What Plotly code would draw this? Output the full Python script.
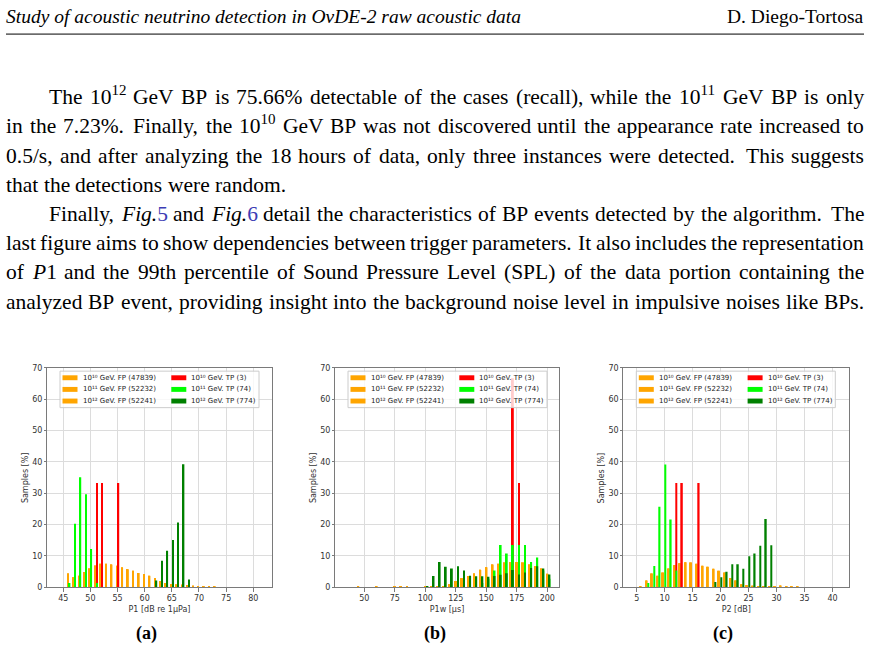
import re
import plotly.graph_objects as go

W, H = 871, 651

# ---------------- chart data ----------------
series_names = ["10¹⁰ GeV. FP (47839)", "10¹¹ GeV. FP (52232)",
                "10¹² GeV. FP (52241)", "10¹⁰ GeV. TP (3)",
                "10¹¹ GeV. TP (74)", "10¹² GeV. TP (774)"]
series_colors = ["#FFA500", "#FFA500", "#FFA500", "#FF0000", "#00FF00", "#008000"]

# (a) P1 [dB re 1uPa]
a_fp_bins = list(range(46, 74))
a_fp10 = [4.4, 3.1, 3.7, 4.9, 6.0, 6.9, 7.5, 7.5, 7.3, 6.9, 6.3, 5.8, 5.3, 4.6, 4.2, 3.7, 2.9, 2.0,
          1.4, 1.0, 0.9, 0.8, 0.7, 0.5, 0.4, 0.3, 0.25, 0.2]
a_fp11 = [4.3, 3.2, 3.6, 4.8, 6.0, 7.0, 7.4, 7.5, 7.2, 6.9, 6.3, 5.7, 5.3, 4.6, 4.1, 3.7, 2.9, 2.0,
          1.4, 1.0, 0.9, 0.8, 0.7, 0.5, 0.4, 0.3, 0.25, 0.2]
a_fp12 = [4.4, 3.1, 3.7, 4.9, 5.9, 6.9, 7.5, 7.4, 7.3, 6.8, 6.3, 5.8, 5.2, 4.6, 4.2, 3.6, 2.9, 2.0,
          1.3, 1.0, 0.9, 0.8, 0.7, 0.5, 0.4, 0.3, 0.2, 0.2]
a_tp10_bins = [51, 52, 55]
a_tp10 = [33.3, 33.3, 33.3]
a_tp11_bins = [46, 47, 48, 49, 50, 51]
a_tp11 = [1.35, 20.3, 35.1, 29.7, 12.2, 1.35]
a_tp12_bins = [62, 63, 64, 65, 66, 67, 68]
a_tp12 = [2.2, 8.5, 11.7, 15.1, 20.7, 39.3, 2.5]

# (b) P1w [us]
b_fp_bins = list(range(45, 205, 5))
b_fp10 = [0.2, 0.1, 0.0, 0.2, 0.0, 0.0, 0.2, 0.4, 0.3, 0.0, 0.0, 0.2, 0.3, 0.4, 0.4,
          1.0, 2.0, 2.9, 3.6, 4.4, 5.6, 6.4, 7.3, 7.5, 7.9, 8.0, 8.1, 7.9, 7.3, 6.7, 6.0, 4.3]
b_fp11 = [0.1, 0.0, 0.0, 0.2, 0.0, 0.0, 0.1, 0.3, 0.3, 0.0, 0.0, 0.2, 0.3, 0.3, 0.4,
          1.0, 1.9, 2.9, 3.5, 4.4, 5.5, 6.4, 7.2, 7.5, 7.8, 8.0, 8.0, 7.9, 7.3, 6.6, 6.0, 4.2]
b_fp12 = [0.2, 0.0, 0.0, 0.1, 0.0, 0.0, 0.2, 0.4, 0.2, 0.0, 0.0, 0.1, 0.3, 0.4, 0.4,
          0.9, 2.0, 2.8, 3.6, 4.3, 5.6, 6.3, 7.3, 7.4, 7.9, 7.9, 8.1, 7.8, 7.2, 6.7, 5.9, 4.3]
b_tp10_bins = [170, 175]
b_tp10 = [66.7, 33.3]
b_tp11_bins = list(range(145, 205, 5))
b_tp11 = [1.35, 2.7, 5.4, 13.5, 10.8, 13.5, 13.5, 13.5, 8.1, 9.5, 5.4, 2.7]
b_tp12_bins = list(range(100, 205, 5))
b_tp12 = [0.3, 3.6, 8.1, 6.6, 6.0, 6.7, 5.4, 3.7, 3.5, 3.5, 3.4, 3.6, 4.0, 4.5, 5.5, 4.1,
          4.7, 6.2, 6.7, 6.0, 4.1]

# (c) P2 [dB]
c_fp_bins = list(range(6, 35))
c_fp10 = [0.2, 2.2, 4.4, 3.7, 4.7, 6.0, 7.1, 7.7, 8.0, 7.9, 7.5, 6.9, 6.6, 5.9, 5.3, 4.7, 3.0,
          2.2, 1.0, 0.7, 0.5, 0.4, 0.3, 0.3, 0.3, 0.6, 0.3, 0.3, 0.3]
c_fp11 = [0.2, 2.1, 4.3, 3.7, 4.6, 6.0, 7.0, 7.7, 7.9, 7.9, 7.4, 6.9, 6.5, 5.9, 5.2, 4.7, 3.0,
          2.1, 1.0, 0.7, 0.5, 0.4, 0.3, 0.3, 0.3, 0.5, 0.3, 0.3, 0.2]
c_fp12 = [0.1, 2.2, 4.4, 3.6, 4.7, 5.9, 7.1, 7.6, 8.0, 7.8, 7.5, 6.8, 6.6, 5.8, 5.3, 4.6, 2.9,
          2.2, 0.9, 0.7, 0.5, 0.4, 0.3, 0.3, 0.3, 0.6, 0.3, 0.2, 0.3]
c_tp10_bins = [12, 13, 16]
c_tp10 = [33.3, 33.3, 33.3]
c_tp11_bins = [7, 8, 9, 10, 11, 12]
c_tp11 = [1.35, 6.8, 25.7, 39.2, 21.6, 5.4]
c_tp12_bins = list(range(19, 30))
c_tp12 = [1.7, 3.2, 5.0, 7.4, 7.4, 5.9, 9.9, 10.8, 13.3, 21.8, 13.4]

x_titles = ["P1 [dB re 1μPa]", "P1w [μs]", "P2 [dB]"]
y_title = "Samples [%]"
x_ticks = [list(range(45, 85, 5)), list(range(50, 225, 25)), list(range(5, 45, 5))]
captions = ["(a)", "(b)", "(c)"]

# ---------------- page text ----------------
header_left = "<i>Study of acoustic neutrino detection in OνDE-2 raw acoustic data</i>"
header_right = "D. Diego-Tortosa"
LINK = "<span style='color:#3c3cb4'>%s</span>"
body_lines = [
    ("The 10<sup>12</sup> GeV BP is 75.66% detectable of the cases (recall), while the 10<sup>11</sup> GeV BP is only", True, True),
    ("in the 7.23%. Finally, the 10<sup>10</sup> GeV BP was not discovered until the appearance rate increased to", False, True),
    ("0.5/s, and after analyzing the 18 hours of data, only three instances were detected. This suggests", False, True),
    ("that the detections were random.", False, False),
    ("Finally, <i>Fig.</i>" + LINK % "5" + " and <i>Fig.</i>" + LINK % "6" + " detail the characteristics of BP events detected by the algorithm. The", True, True),
    ("last figure aims to show dependencies between trigger parameters. It also includes the representation", False, True),
    ("of <i>P</i>1 and the 99th percentile of Sound Pressure Level (SPL) of the data portion containing the", False, True),
    ("analyzed BP event, providing insight into the background noise level in impulsive noises like BPs.", False, True),
]

# ---------------- styling / geometry ----------------
panel_px = [(47, 272), (335, 559), (623.3, 849.3)]
plot_top, plot_bot = 369, 591.5
x_ranges = [[42.0, 83.45], [26.0, 209.6], [2.6, 43.0]]
bar_style = [dict(fp=-0.13, tp=0.17, w=0.27), dict(fp=0.0, tp=1.8, w=1.5), dict(fp=-0.3, tp=0.1, w=0.27)]
caption_x = [146.5, 435, 723.3]
caption_y = 638.5

TEXT_SIZE = 21.5
LEFT, INDENT, RIGHT = 6.0, 49.0, 864.0
BASE0, LEAD = 102.0, 29.6

# Times / Liberation Serif advance widths (1/1000 em)
TR = dict(zip(" !%(),-./0123456789:;?", [250, 333, 833, 333, 333, 250, 333, 250, 278] + [500] * 10 + [278, 278, 444]))
TR.update(dict(zip("ABCDEFGHIJKLMNOPQRSTUVWXYZ", [722, 667, 667, 722, 611, 556, 722, 722, 333, 389, 722, 611, 889,
                                                   722, 722, 556, 722, 667, 556, 611, 722, 722, 944, 722, 722, 611])))
TR.update(dict(zip("abcdefghijklmnopqrstuvwxyz", [444, 500, 444, 500, 444, 333, 500, 500, 278, 278, 500, 278, 778,
                                                   500, 500, 500, 500, 333, 389, 278, 500, 500, 722, 500, 500, 444])))
TI = dict(TR)
TI.update(dict(zip("ABCDEFGHIJKLMNOPQRSTUVWXYZ", [611, 611, 667, 722, 611, 611, 722, 722, 333, 444, 667, 556, 833,
                                                   667, 722, 611, 722, 611, 500, 556, 722, 611, 833, 611, 556, 556])))
TI.update(dict(zip("abcdefghijklmnopqrstuvwxyz", [500, 500, 444, 500, 444, 278, 500, 500, 278, 278, 444, 278, 722,
                                                   500, 500, 500, 500, 389, 389, 278, 500, 444, 667, 444, 444, 389])))


def word_width(html, size):
    w, italic, sup = 0.0, False, False
    for tok in re.split(r'(<[^>]+>)', html):
        if not tok:
            continue
        if tok.startswith('<'):
            t = tok.lower()
            if t.startswith('<i>'):
                italic = True
            elif t.startswith('</i'):
                italic = False
            elif t.startswith('<sup'):
                sup = True
            elif t.startswith('</sup'):
                sup = False
            continue
        table = TI if italic else TR
        s = 0.7 if sup else 1.0
        for ch in tok:
            w += table.get(ch, 500) / 1000.0 * size * s
    return w


def px(x):
    return x / W


def py(y):
    return 1 - y / H


annotations = []
shapes = []

# header
annotations.append(dict(x=px(LEFT), y=py(23), xref='paper', yref='paper', xanchor='left', yanchor='bottom',
                        text=header_left, showarrow=False, borderpad=0, borderwidth=0,
                        font=dict(family='Liberation Serif', size=19.5, color='black')))
annotations.append(dict(x=px(RIGHT), y=py(23), xref='paper', yref='paper', xanchor='right', yanchor='bottom',
                        text=header_right, showarrow=False, borderpad=0, borderwidth=0,
                        font=dict(family='Liberation Serif', size=19.5, color='black')))
shapes.append(dict(type='line', xref='paper', yref='paper', x0=px(LEFT), x1=px(RIGHT), y0=py(30.5), y1=py(30.5),
                   line=dict(color='black', width=1)))

# justified body text, word by word
for i, (line, indent, justify) in enumerate(body_lines):
    words = re.split(r' (?![^<]*>)', line)
    widths = [word_width(w, TEXT_SIZE) for w in words]
    plain = [re.sub(r'<[^>]+>', '', w) for w in words]
    weights = [1.4 if p.endswith('.') else 1.0 for p in plain[:-1]]
    x0 = INDENT if indent else LEFT
    if justify:
        unit = ((RIGHT - x0) - sum(widths)) / sum(weights)
    else:
        unit = 0.25 * TEXT_SIZE
    baseline = BASE0 + LEAD * i
    ybot = baseline + 0.216 * TEXT_SIZE
    x = x0
    for k, w in enumerate(words):
        annotations.append(dict(x=px(x), y=py(ybot), xref='paper', yref='paper', xanchor='left',
                                yanchor='bottom', text=w, showarrow=False, borderpad=0, borderwidth=0,
                                font=dict(family='Liberation Serif', size=TEXT_SIZE, color='black')))
        if k < len(weights):
            x += widths[k] + unit * weights[k]

# ---------------- figure ----------------
fig = go.Figure()
panels = [
    [(a_fp_bins, a_fp10), (a_fp_bins, a_fp11), (a_fp_bins, a_fp12),
     (a_tp10_bins, a_tp10), (a_tp11_bins, a_tp11), (a_tp12_bins, a_tp12)],
    [(b_fp_bins, b_fp10), (b_fp_bins, b_fp11), (b_fp_bins, b_fp12),
     (b_tp10_bins, b_tp10), (b_tp11_bins, b_tp11), (b_tp12_bins, b_tp12)],
    [(c_fp_bins, c_fp10), (c_fp_bins, c_fp11), (c_fp_bins, c_fp12),
     (c_tp10_bins, c_tp10), (c_tp11_bins, c_tp11), (c_tp12_bins, c_tp12)],
]

layout_axes = {}
tick_font = dict(family='DejaVu Sans', size=8, color='#333333')
for p, series in enumerate(panels):
    sfx = '' if p == 0 else str(p + 1)
    st = bar_style[p]
    for s, (xs, ys) in enumerate(series):
        center = st['fp'] if s < 3 else st['tp']
        fig.add_trace(go.Bar(x=xs, y=ys, name=series_names[s],
                             xaxis='x' + sfx, yaxis='y' + sfx, width=st['w'], offset=center - st['w'] / 2,
                             marker=dict(color=series_colors[s], line=dict(width=0)), showlegend=False))
    x0p, x1p = panel_px[p]
    layout_axes['xaxis' + sfx] = dict(
        domain=[px(x0p), px(x1p)], range=x_ranges[p], anchor='y' + sfx, tickvals=x_ticks[p],
        showgrid=True, gridcolor='#dcdcdc', gridwidth=1, zeroline=False, showline=True, mirror=True,
        linecolor='#7a7a7a', linewidth=1, ticks='outside', ticklen=3.5, tickcolor='#7a7a7a',
        tickfont=tick_font, title=dict(text=x_titles[p], font=tick_font, standoff=3))
    layout_axes['yaxis' + sfx] = dict(
        domain=[py(plot_bot), py(plot_top)], range=[0, 70], anchor='x' + sfx, tickvals=list(range(0, 80, 10)),
        showgrid=True, gridcolor='#dcdcdc', gridwidth=1, zeroline=False, showline=True, mirror=True,
        linecolor='#7a7a7a', linewidth=1, ticks='outside', ticklen=2, tickcolor='#7a7a7a',
        tickfont=tick_font)
    # y-axis title placed explicitly
    annotations.append(dict(x=px(x0p - 21.5), y=py((plot_top + plot_bot) / 2), xref='paper', yref='paper',
                            xanchor='center', yanchor='middle', textangle=-90, text=y_title, showarrow=False,
                            font=tick_font))

    # legend (two columns, drawn in paper space)
    shapes.append(dict(type='rect', xref='paper', yref='paper', layer='above',
                       x0=px(x0p + 13), x1=px(x0p + 212), y0=py(plot_top + 3.3), y1=py(plot_top + 40.3),
                       fillcolor='rgba(255,255,255,0.8)', line=dict(color='#cccccc', width=1)))
    for s, name in enumerate(series_names):
        col, row = divmod(s, 3)
        yc = plot_top + 10 + 11.8 * row
        xpatch = x0p + (15.5 if col == 0 else 124.3)
        shapes.append(dict(type='rect', xref='paper', yref='paper', layer='above',
                           x0=px(xpatch), x1=px(xpatch + 15), y0=py(yc + 2.5), y1=py(yc - 2.5),
                           fillcolor=series_colors[s], line=dict(width=0)))
        annotations.append(dict(x=px(xpatch + 20), y=py(yc), xref='paper', yref='paper', xanchor='left',
                                yanchor='middle', text=name, showarrow=False, borderpad=0, borderwidth=0,
                                font=dict(family='DejaVu Sans', size=7, color='#222222')))
    annotations.append(dict(x=px(caption_x[p]), y=py(caption_y), xref='paper', yref='paper', xanchor='center',
                            yanchor='middle', text='<b>%s</b>' % captions[p], showarrow=False,
                            font=dict(family='Liberation Serif', size=18, color='black')))

fig.update_layout(width=W, height=H, margin=dict(l=0, r=0, t=0, b=0), paper_bgcolor='white',
                  plot_bgcolor='white', barmode='overlay', showlegend=False,
                  annotations=annotations, shapes=shapes, **layout_axes)

fig.write_html("out.html")
